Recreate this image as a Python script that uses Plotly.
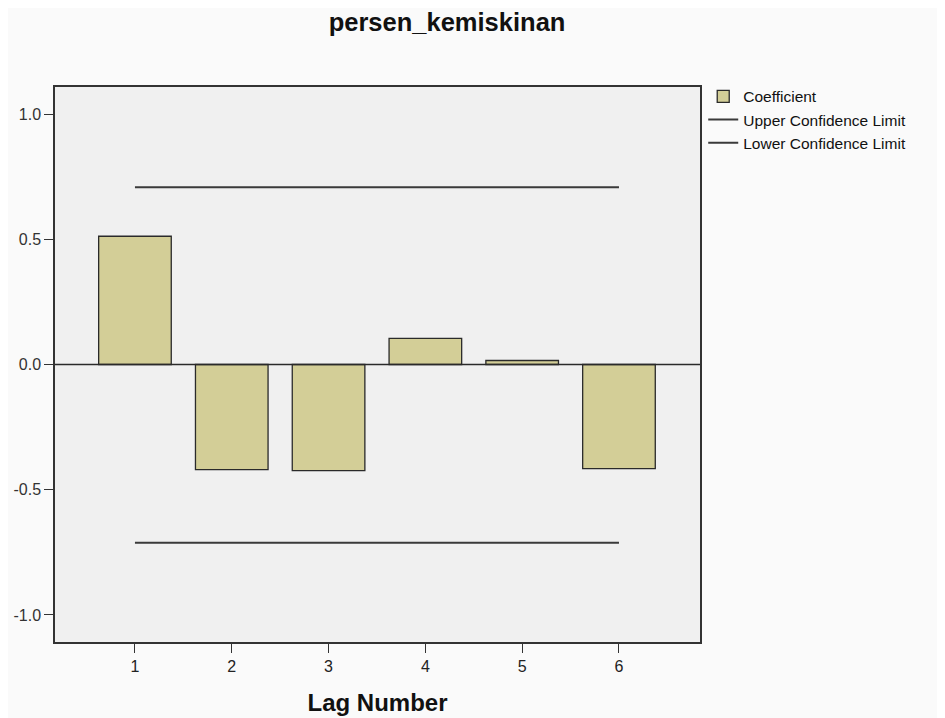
import plotly.graph_objects as go

lags = [1, 2, 3, 4, 5, 6]
coefficient = [0.512, -0.420, -0.424, 0.104, 0.016, -0.416]
upper_limit = [0.708, 0.708, 0.708, 0.708, 0.708, 0.708]
lower_limit = [-0.712, -0.712, -0.712, -0.712, -0.712, -0.712]
y_ticks = [-1.0, -0.5, 0.0, 0.5, 1.0]
y_tick_labels = ["-1.0", "-0.5", "0.0", "0.5", "1.0"]

fig = go.Figure()
fig.add_trace(go.Bar(
    x=lags, y=coefficient, name="Coefficient", width=0.75,
    marker=dict(color="#d3ce97", line=dict(color="#2a2a2a", width=1.3)),
))
fig.add_trace(go.Scatter(
    x=lags, y=upper_limit, mode="lines", name="Upper Confidence Limit",
    line=dict(color="#3a3a3a", width=2),
))
fig.add_trace(go.Scatter(
    x=lags, y=lower_limit, mode="lines", name="Lower Confidence Limit",
    line=dict(color="#3a3a3a", width=2),
))

fig.add_shape(type="line", xref="paper", yref="y", x0=0, x1=1, y0=0, y1=0,
              line=dict(color="#2a2a2a", width=1.5), layer="above")

fig.update_layout(
    width=945, height=718,
    paper_bgcolor="#fafafa", plot_bgcolor="#f0f0f0",
    margin=dict(l=47, r=253, t=79, b=84),
    font=dict(family="Liberation Sans, Arial, sans-serif", color="#222"),
    title=dict(text="<b>persen_kemiskinan</b>", x=0.4646, xanchor="center",
               y=0.9805, yanchor="middle", font=dict(size=25.5, color="#111")),
    showlegend=True,
    legend=dict(x=1.005, y=1.013, xanchor="left", yanchor="top",
                bgcolor="rgba(0,0,0,0)", font=dict(size=15.5, color="#111"),
                tracegroupgap=0, itemwidth=30),
    bargap=0.25,
    xaxis=dict(range=[0.174, 6.837], tickvals=lags, ticktext=[str(v) for v in lags],
               showgrid=False, zeroline=False, showline=True, mirror=True,
               linecolor="#333", linewidth=1.5, ticks="outside", ticklen=9,
               tickcolor="#333", tickfont=dict(size=16, color="#222"),
               title=dict(text="<b>Lag Number</b>", font=dict(size=24, color="#111"),
                          standoff=20)),
    yaxis=dict(range=[-1.108, 1.108], tickvals=y_ticks, ticktext=y_tick_labels,
               showgrid=False, zeroline=False, showline=True, mirror=True,
               linecolor="#333", linewidth=1.5, ticks="outside", ticklen=9,
               tickcolor="#333", tickfont=dict(size=16, color="#333"),
               automargin=False),
)

fig.write_html("out.html")
